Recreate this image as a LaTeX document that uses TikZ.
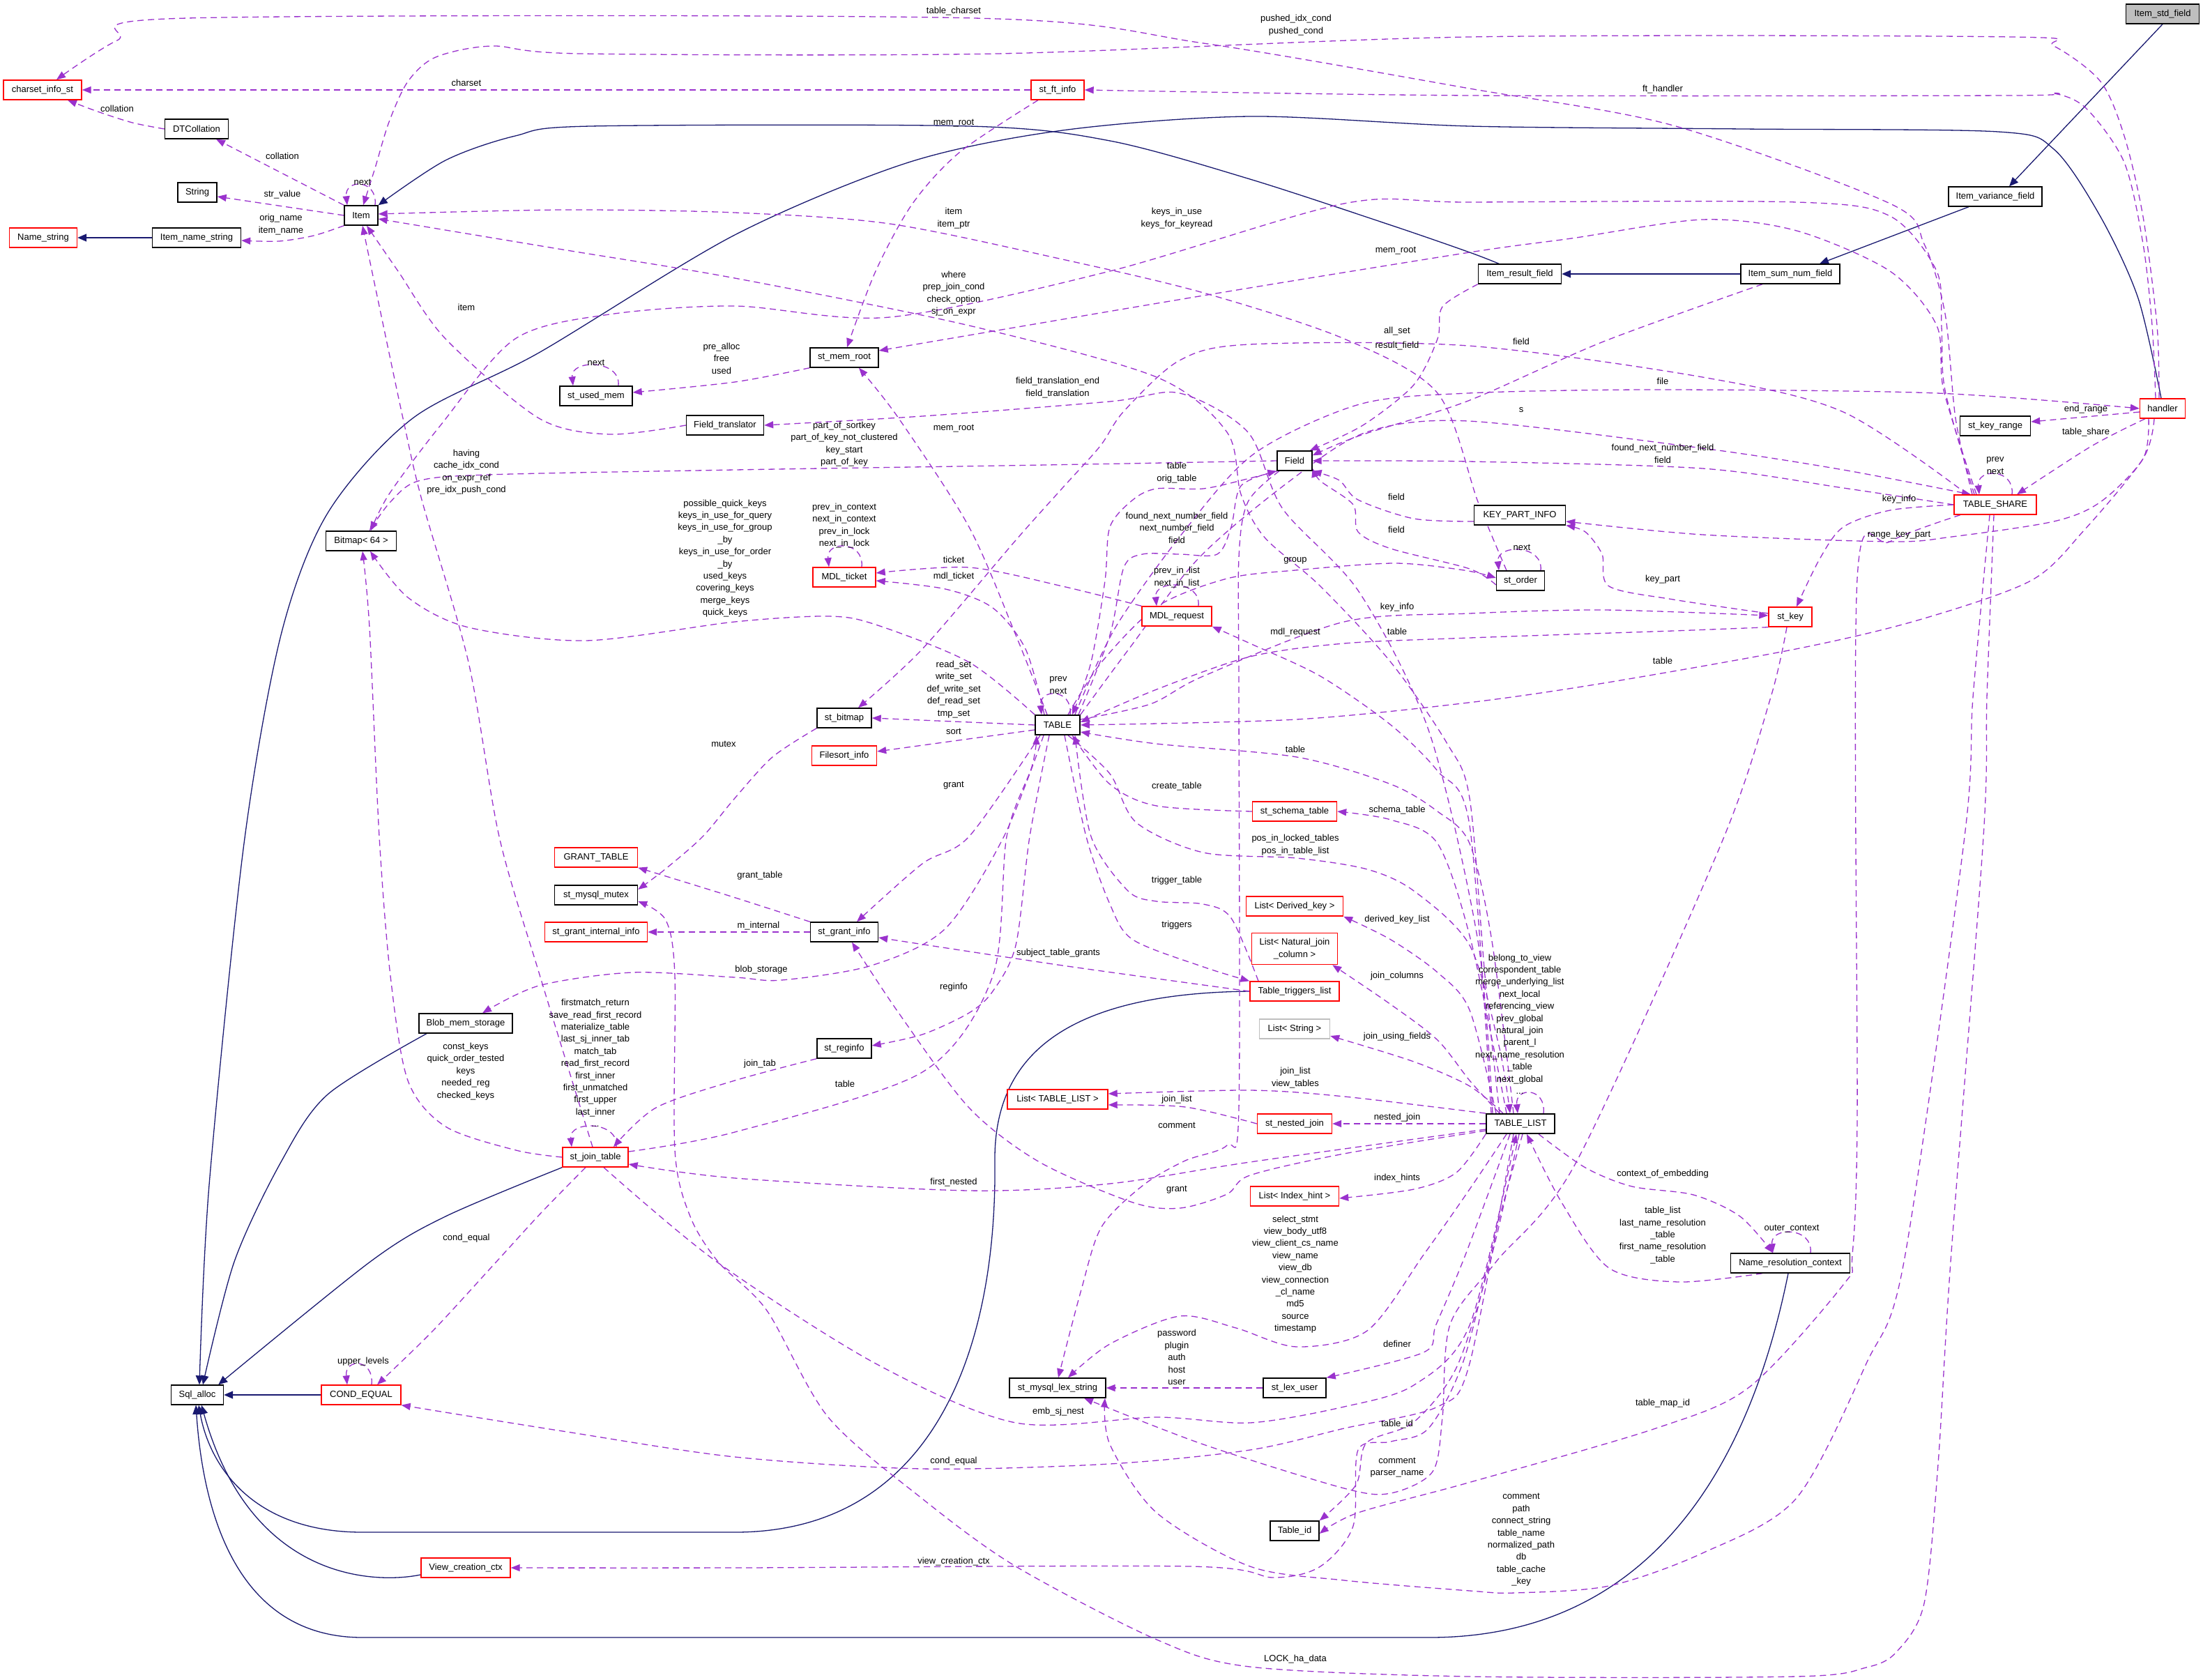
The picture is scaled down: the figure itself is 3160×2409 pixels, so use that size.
\documentclass[tikz,border=0pt]{standalone}
\usepackage{fontspec}
\setmainfont{Liberation Sans}
\usetikzlibrary{arrows.meta}
\definecolor{purp}{HTML}{9A32CD}
\definecolor{navyc}{HTML}{191970}
\definecolor{redb}{HTML}{FF0000}
\definecolor{grayf}{HTML}{BFBFBF}
\newcommand\nf{\fontsize{13}{17.4}\selectfont}
\pgfdeclarelayer{bg}
\pgfsetlayers{bg,main}
\tikzset{
 box/.style={draw=black, line width=1.4pt, fill=white, inner sep=0pt, minimum height=28pt, font=\nf},
 rbox/.style={box, draw=redb},
 dep/.style={draw=purp, line width=1.3pt, dash pattern=on 9pt off 6pt, -{Triangle[length=13pt,width=10pt]}},
 inh/.style={draw=navyc, line width=1.3pt, -{Triangle[length=13pt,width=11pt]}},
 lbl/.style={font=\nf, align=center, inner sep=0pt}
}
\newcommand\selfloop[4]{\draw[dep] ([xshift=#2]#1.north) .. controls +(4,-#4) and +(-4,-#4) .. ([xshift=#3]#1.north);}
\begin{document}
\begin{tikzpicture}[x=1pt,y=-1pt]
\useasboundingbox (0,0) rectangle (3160,2409);
% ---------------- nodes
\node[rbox,minimum width=112pt] (cis) at (61,129) {charset\_info\_st};
\node[box,minimum width=91pt] (dtc) at (282,185) {DTCollation};
\node[box,minimum width=56pt] (str) at (283,276) {String};
\node[box,minimum width=48pt] (item) at (518,309) {Item};
\node[rbox,minimum width=97pt] (nms) at (62,341) {Name\_string};
\node[box,minimum width=127pt] (ins) at (282,341) {Item\_name\_string};
\node[box,minimum width=104pt] (sum) at (855,568) {st\_used\_mem};
\node[box,minimum width=111pt] (ftr) at (1040,610) {Field\_translator};
\node[rbox,minimum width=76pt] (sft) at (1517,129) {st\_ft\_info};
\node[box,minimum width=98pt] (smr) at (1211,513) {st\_mem\_root};
\node[box,fill=grayf,minimum width=105pt] (isf) at (3102,20) {Item\_std\_field};
\node[box,minimum width=134pt] (ivf) at (2862,282) {Item\_variance\_field};
\node[box,minimum width=119pt] (irf) at (2180,393) {Item\_result\_field};
\node[box,minimum width=142pt] (isnf) at (2568,393) {Item\_sum\_num\_field};
\node[rbox,minimum width=65pt] (hdl) at (3102,586) {handler};
\node[box,minimum width=101pt] (skr) at (2862,611) {st\_key\_range};
\node[box,minimum width=101pt] (bmp) at (518,776) {Bitmap< 64 >};
\node[box,minimum width=50pt] (fld) at (1857,661) {Field};
\node[rbox,minimum width=90pt] (mdlt) at (1211,828) {MDL\_ticket};
\node[rbox,minimum width=100pt] (mdlr) at (1688,884) {MDL\_request};
\node[box,minimum width=78pt] (sbm) at (1211,1030) {st\_bitmap};
\node[box,minimum width=64pt,line width=1.8pt] (tbl) at (1517,1040) {TABLE};
\node[rbox,minimum width=93pt] (fsi) at (1211,1084) {Filesort\_info};
\node[rbox,minimum width=121pt] (sst) at (1857,1164) {st\_schema\_table};
\node[rbox,minimum width=118pt] (tsh) at (2862,724) {TABLE\_SHARE};
\node[box,minimum width=131pt] (kpi) at (2180,739) {KEY\_PART\_INFO};
\node[box,minimum width=69pt] (sor) at (2181,833) {st\_order};
\node[rbox,minimum width=62pt] (sky) at (2568,885) {st\_key};
\node[rbox,minimum width=119pt] (gtb) at (855,1230) {GRANT\_TABLE};
\node[box,minimum width=119pt] (smm) at (855,1284) {st\_mysql\_mutex};
\node[rbox,minimum width=147pt] (sgii) at (855,1337) {st\_grant\_internal\_info};
\node[box,minimum width=134pt] (bms) at (668,1468) {Blob\_mem\_storage};
\node[rbox,minimum width=94pt] (sjt) at (854,1660) {st\_join\_table};
\node[box,minimum width=97pt] (sgi) at (1211,1337) {st\_grant\_info};
\node[box,minimum width=78pt] (sri) at (1211,1504) {st\_reginfo};
\node[rbox,minimum width=139pt] (ldk) at (1857,1300) {List< Derived\_key >};
\node[rbox,minimum width=123pt,minimum height=45pt,align=center] (lnj) at (1857,1361) {List< Natural\_join\\\_column >};
\node[rbox,minimum width=128pt] (ttl) at (1857,1422) {Table\_triggers\_list};
\node[box,draw=grayf,minimum width=101pt] (lst) at (1857,1476) {List< String >};
\node[rbox,minimum width=144pt] (ltl) at (1517,1577) {List< TABLE\_LIST >};
\node[rbox,minimum width=107pt] (snj) at (1857,1612) {st\_nested\_join};
\node[rbox,minimum width=127pt] (lih) at (1857,1716) {List< Index\_hint >};
\node[box,minimum width=98pt,line width=1.8pt] (tl) at (2181,1612) {TABLE\_LIST};
\node[box,minimum width=171pt] (nrc) at (2568,1812) {Name\_resolution\_context};
\node[box,minimum width=75pt] (sqa) at (283,2001) {Sql\_alloc};
\node[rbox,minimum width=114pt] (ceq) at (518,2001) {COND\_EQUAL};
\node[rbox,minimum width=128pt] (vcc) at (668,2249) {View\_creation\_ctx};
\node[box,minimum width=138pt] (mls) at (1517,1991) {st\_mysql\_lex\_string};
\node[box,minimum width=90pt] (slu) at (1857,1991) {st\_lex\_user};
\node[box,minimum width=70pt] (tid) at (1857,2196) {Table\_id};
% ---------------- edges
\begin{pgfonlayer}{bg}
% inheritance
\draw[inh] (isf.south) -- ([xshift=20]ivf.north);
\draw[inh] ([xshift=-38]ivf.south) -- ([xshift=42]isnf.north);
\draw[inh] (isnf.west) -- (irf.east);
\draw[inh] plot[smooth] coordinates {([xshift=-30]irf.north) (2108,362) (1995,323) (1793,257) (1592,202) (1390,181) (847,181) (739,195) (639,230) (item.north east)};
\draw[inh] plot[smooth] coordinates {([xshift=-2]hdl.north) (3067,428) (3013,311) (2946,214) (2866,189) (2500,185) (2108,181) (1793,167) (1524,187) (1303,233) (1054,337) (773,506) (592,600) (470,736) (403,911) (350,1210) (300,1700) ([xshift=3]sqa.north)};
\draw[inh] plot[smooth] coordinates {([xshift=-56]bms.south) (470,1570) (403,1667) (336,1810) ([xshift=8]sqa.north)};
\draw[inh] plot[smooth] coordinates {(sjt.south west) (639,1745) (531,1810) ([xshift=-8]sqa.north east)};
\draw[inh] (ceq.west) -- (sqa.east);
\draw[inh] (ins.west) -- (nms.east);
\draw[inh] ([yshift=-10]vcc.west) .. controls (540,2272) and (360,2270) .. ([xshift=6]sqa.south);
\draw[inh] (ttl.west) .. controls (1520,1425) and (1425,1520) .. (1427,1667) .. controls (1430,1950) and (1330,2198) .. (1054,2198) -- (520,2198) .. controls (360,2198) and (300,2100) .. ([xshift=2]sqa.south);
\draw[inh] ([xshift=-3]nrc.south) .. controls (2520,2050) and (2400,2349) .. (2050,2349) -- (520,2349) .. controls (330,2349) and (290,2150) .. ([xshift=-2]sqa.south);
% dependencies
\draw[dep] plot[smooth] coordinates {([xshift=-33]tsh.north) (2805,600) (2790,450) (2760,350) (2711,292) (2400,180) (2108,127) (1726,62) (1397,26) (269,26) (168,58) ([xshift=20]cis.north)};
\draw[dep] (sft.west) -- (cis.east);
\draw[dep] plot[smooth] coordinates {(dtc.west) (190,176) (140,160) ([xshift=36]cis.south)};
\draw[dep] (item.north west) -- ([xshift=28]dtc.south);
\draw[dep] (item.west) -- ([yshift=-6]str.east);
\draw[dep] plot[smooth] coordinates {(item.south west) (450,338) (400,346) ([yshift=-4]ins.east)};
\selfloop{item}{20}{-20}{38}
\draw[dep] plot[smooth] coordinates {([xshift=-5]hdl.north) (3094,467) (3074,311) (3047,195) (3013,117) (2946,66) (2886,53) (2108,53) (1430,77) (834,77) (706,66) (625,82) (585,117) (558,175) (538,241) ([xshift=3]item.north)};
\draw[dep] plot[smooth] coordinates {([xshift=-10]hdl.north) (3087,467) (3074,350) (3047,233) (2993,156) (2946,134) (2886,137) (2108,137) (sft.east)};
\draw[dep] plot[smooth] coordinates {([xshift=-20]sor.north) (2120,720) (2062,564) (1928,486) (1726,420) (1524,372) (1276,321) (1054,305) (807,301) ([yshift=2]item.east)};
\draw[dep] plot[smooth] coordinates {([xshift=-30]tl.north) (2130,1400) (2108,1145) (2076,1067) (1995,950) (1894,841) (1814,771) (1780,709) (1760,620) (1659,541) (1390,467) (1054,399) (807,358) ([yshift=-5]item.east)};
\draw[dep] plot[smooth] coordinates {(ftr.west) (874,623) (773,600) (639,486) (571,389) ([xshift=8]item.south)};
\draw[dep] plot[smooth] coordinates {([xshift=-4]sjt.north) (773,1395) (716,1200) (672,950) (605,717) (578,600) (540,420) ([xshift=2]item.south)};
\draw[dep] plot[smooth] coordinates {(fld.west) (1500,667) (1054,674) (700,681) (600,690) (560,720) ([xshift=12]bmp.north)};
\draw[dep] plot[smooth] coordinates {([xshift=-30]tsh.north) (2790,560) (2785,470) (2778,389) (2711,310) (2577,290) (2108,290) (1928,292) (1592,389) (1276,455) (1054,439) (874,451) (739,486) (632,610) (558,709) ([xshift=14]bmp.north)};
\draw[dep] plot[smooth] coordinates {(tbl.north west) (1390,950) (1256,896) (1188,884) (1054,892) (840,919) (672,900) (585,857) ([xshift=13]bmp.south)};
\draw[dep] plot[smooth] coordinates {(sjt.west) (740,1650) (639,1616) (585,1550) (560,1400) (544,1200) (530,900) ([xshift=2]bmp.south)};
\draw[dep] plot[smooth] coordinates {([xshift=-28]sft.south) (1377,218) (1309,292) (1256,389) ([xshift=4]smr.north)};
\draw[dep] plot[smooth] coordinates {([xshift=-27]tsh.north) (2788,560) (2778,467) (2711,389) (2577,331) (2442,315) (2254,342) (2108,362) (1726,424) ([yshift=10]smr.east)};
\draw[dep] plot[smooth] coordinates {([xshift=-15]tbl.north) (1457,911) (1390,756) (1289,600) ([xshift=21]smr.south)};
\draw[dep] plot[smooth] coordinates {(smr.south west) (1054,548) ([yshift=5]sum.east)};
\selfloop{sum}{32}{-33}{38}
\draw[dep] plot[smooth] coordinates {([xshift=-40]tl.north) (2120,1350) (2050,1050) (1950,850) (1840,730) (1790,620) (1692,564) (1592,576) (1323,597) (ftr.east)};
\draw[dep] plot[smooth] coordinates {([xshift=-25]fld.south) (1793,686) (1726,701) (1659,701) (1625,717) (1592,756) (1585,833) (1565,950) ([xshift=21]tbl.north)};
\draw[dep] plot[smooth] coordinates {([xshift=30]tbl.north) (1592,911) (1612,814) (1639,795) (1692,795) (1746,795) (1766,756) (1780,697) (fld.south west)};
\draw[dep] plot[smooth] coordinates {(tsh.west) (2644,700) (2442,672) (2106,662) (fld.east)};
\draw[dep] plot[smooth] coordinates {([yshift=-9]kpi.west) (2028,744) (1948,717) (1921,689) (fld.south east)};
\draw[dep] plot[smooth] coordinates {([yshift=-6]sor.west) (2108,816) (1995,787) (1948,763) (1941,724) (1894,690) ([yshift=4]fld.south east)};
\draw[dep] plot[smooth] coordinates {(irf.south west) (2069,440) (2062,486) (2028,552) (1955,610) ([xshift=-4]fld.north east)};
\draw[dep] plot[smooth] coordinates {([xshift=-40]isnf.south) (2300,490) (2106,575) (1950,625) ([yshift=-7]fld.north east)};
\draw[dep] plot[smooth] coordinates {([xshift=-40]tsh.north) (2644,591) (2442,541) (2106,496) (1793,494) (1692,517) (1612,590) (1578,640) (1524,700) (1457,775) (1323,931) ([xshift=20]sbm.north)};
\draw[dep] plot[smooth] coordinates {(tbl.north east) (1620,930) (1720,800) (1850,690) (1960,620) (2106,604) (2442,643) (2644,674) ([xshift=-35]tsh.north)};
\draw[dep] plot[smooth] coordinates {([xshift=-8]tbl.north east) (1600,900) (1700,760) (1800,650) (1950,580) (2106,564) (2375,559) (2778,564) (hdl.west)};
\draw[dep] plot[smooth] coordinates {([xshift=-25]hdl.south) (3000,640) ([xshift=31]tsh.north)};
\draw[dep] ([yshift=-5]hdl.west) -- ([yshift=6]skr.east);
\selfloop{tsh}{24}{-23}{38}
\draw[dep] plot[smooth] coordinates {(tsh.west) (2711,732) (2644,756) (2610,802) ([xshift=9]sky.north)};
\draw[dep] plot[smooth] coordinates {([xshift=-20]hdl.south) (3074,658) (3013,720) (2946,748) (2800,770) (2711,777) (2442,767) ([yshift=-9]kpi.east)};
\draw[dep] plot[smooth] coordinates {([yshift=5]sky.west) (2400,860) (2308,841) (2298,795) (2274,763) (kpi.south east)};
\selfloop{sor}{29}{-31}{38}
\draw[dep] plot[smooth] coordinates {([xshift=-12]hdl.south) (3074,658) (2990,760) (2913,833) (2750,890) (2576,931) (2300,980) (2106,1008) (1860,1032) (tbl.east)};
\draw[dep] plot[smooth] coordinates {([yshift=8]tbl.east) (1650,1010) (1726,970) (1928,892) (2108,880) (2300,875) ([yshift=2]sky.west)};
\draw[dep] plot[smooth] coordinates {(sky.south west) (2400,905) (2108,915) (1928,923) (1793,942) (1659,989) ([yshift=4]tbl.east)};
\draw[dep] plot[smooth] coordinates {([xshift=15]tbl.north) (1580,950) (1660,870) (1760,830) (1858,818) (2000,808) (2100,818) ([yshift=4]sor.west)};
\draw[dep] plot[smooth] coordinates {([xshift=-42]tl.north) (2108,1184) (2062,1106) (1995,1040) (1894,970) (1793,923) (mdlr.south east)};
\draw[dep] plot[smooth] coordinates {(mdlr.north west) (1524,841) (1390,814) ([yshift=6]mdlt.east)};
\draw[dep] plot[smooth] coordinates {([xshift=-19]tbl.north) (1471,931) (1424,872) (1356,845) ([yshift=-5]mdlt.east)};
\selfloop{mdlt}{25}{-22}{38}
\selfloop{mdlr}{31}{-29}{38}
\draw[dep] (tbl.west) -- (sbm.east);
\selfloop{tbl}{18}{-23}{38}
\draw[dep] ([yshift=-7]tbl.west) -- ([yshift=6]fsi.east);
\draw[dep] plot[smooth] coordinates {([xshift=-10]tl.north) (2140,1350) (2108,1210) (2062,1164) (1995,1125) (1860,1086) (1659,1067) ([yshift=-10]tbl.east)};
\draw[dep] plot[smooth] coordinates {(sst.west) (1659,1156) (1592,1125) ([xshift=21]tbl.south)};
\draw[dep] plot[smooth] coordinates {([xshift=-20]tl.north) (2110,1350) (2062,1210) (1995,1176) (sst.east)};
\draw[dep] plot[smooth] coordinates {([xshift=15]tbl.south) (1592,1110) (1630,1180) (1726,1223) (1860,1231) (1961,1247) (2028,1278) (2108,1356) (2150,1500) ([xshift=-15]tl.north)};
\draw[dep] plot[smooth] coordinates {([xshift=-25]tbl.south) (1390,1200) (1323,1239) ([xshift=18]sgi.north)};
\draw[dep] plot[smooth] coordinates {(sgi.north west) (1049,1286) (gtb.south east)};
\draw[dep] (sgi.west) -- (sgii.east);
\draw[dep] plot[smooth] coordinates {(sbm.south west) (1108,1086) (1054,1145) (1008,1200) (954,1247) ([yshift=8]smm.east)};
\draw[dep] plot[smooth] coordinates {([xshift=-20]tbl.south) (1440,1200) (1356,1332) (1250,1385) (1121,1406) (1054,1402) (907,1395) (773,1414) ([xshift=24]bms.north)};
\draw[dep] plot[smooth] coordinates {(ttl.west) (1524,1385) ([yshift=-8]sgi.east)};
\draw[dep] plot[smooth] coordinates {([xshift=-12]tbl.south) (1477,1200) (1457,1356) (1424,1422) (1390,1453) (1323,1484) ([yshift=4]sri.east)};
\draw[dep] plot[smooth] coordinates {([xshift=-52]ttl.north) (1766,1317) (1726,1297) (1659,1293) (1618,1278) (1565,1200) ([xshift=25]tbl.south)};
\draw[dep] plot[smooth] coordinates {([xshift=10]tbl.south) (1558,1200) (1592,1297) (1625,1348) (1726,1387) (ttl.north west)};
\draw[dep] plot[smooth] coordinates {(sri.south west) (1054,1550) (941,1589) ([xshift=26]sjt.north)};
\draw[dep] plot[smooth] coordinates {([yshift=8]sjt.east) (1054,1624) (1323,1538) (1424,1400) (1444,1200) (1480,1100) ([xshift=-30]tbl.south)};
\selfloop{sjt}{30}{-34}{38}
\draw[dep] plot[smooth] coordinates {([yshift=-8]tl.west) (1793,1667) (1592,1698) (1390,1708) (1054,1690) ([yshift=-10]sjt.east)};
\draw[dep] plot[smooth] coordinates {(tl.north west) (1928,1573) (1793,1564) ([yshift=8]ltl.east)};
\draw[dep] plot[smooth] coordinates {(snj.west) (1700,1588) ([yshift=-8]ltl.east)};
\draw[dep] (tl.west) -- (snj.east);
\draw[dep] plot[smooth] coordinates {([xshift=-35]tl.north) (2108,1449) (2062,1395) (1995,1348) (ldk.south east)};
\draw[dep] plot[smooth] coordinates {([xshift=-30]tl.north) (2108,1550) (2062,1492) (1995,1441) ([xshift=-8]lnj.south east)};
\draw[dep] plot[smooth] coordinates {([xshift=-25]tl.north) (2108,1558) (2028,1523) ([yshift=-10]lst.east)};
\selfloop{tl}{33}{-4}{38}
\draw[dep] plot[smooth] coordinates {(tl.south west) (2089,1682) (2028,1706) ([yshift=-3]lih.east)};
\draw[dep] plot[smooth] coordinates {([yshift=-10]tl.west) (1928,1655) (1793,1686) (1760,1713) (1693,1733) (1625,1725) (1491,1667) (1390,1589) (1289,1453) ([xshift=11]sgi.south)};
\draw[dep] plot[smooth] coordinates {([xshift=26]tl.south) (2274,1675) (2341,1702) (2429,1714) (2496,1745) ([xshift=-25]nrc.north)};
\draw[dep] plot[smooth] coordinates {([xshift=-40]nrc.south) (2408,1839) (2308,1819) (2240,1725) ([xshift=9]tl.south)};
\selfloop{nrc}{29}{-25}{38}
\draw[dep] plot[smooth] coordinates {([xshift=-20]tl.south) (2108,1706) (2042,1800) (1961,1909) (1860,1932) (1773,1905) (1692,1888) (1592,1928) ([xshift=15]mls.north)};
\draw[dep] plot[smooth] coordinates {([xshift=-15]tl.south) (2102,1800) (2060,1900) (2042,1940) (slu.north east)};
\draw[dep] (slu.west) -- (mls.east);
\draw[dep] plot[smooth] coordinates {([xshift=12]sjt.south) (1028,1810) (1256,1956) (1457,2041) (1659,2033) (1793,2041) (1928,2018) (2028,1987) (2108,1901) ([xshift=-6]tl.south)};
\draw[dep] plot[smooth] coordinates {([xshift=-10]tl.south) (2108,1956) (2062,2018) (1928,2049) (1793,2080) (1592,2100) (1323,2107) (1054,2090) (807,2053) (ceq.south east)};
\draw[dep] plot[smooth] coordinates {([xshift=-14]sjt.south) (776,1740) (712,1810) (620,1910) ([xshift=23]ceq.north)};
\selfloop{ceq}{15}{-20}{38}
\draw[dep] plot[smooth] coordinates {([xshift=3]tl.south) (2150,1750) (2100,1950) (2049,2049) (1995,2068) (1948,2080) (1941,2189) (1894,2247) (1827,2263) (1706,2247) (1054,2249) (vcc.east)};
\draw[dep] plot[smooth] coordinates {([xshift=-2]tl.south) (2140,1800) (2090,1960) (2028,2040) (1960,2070) (1945,2130) (tid.north east)};
\draw[dep] plot[smooth] coordinates {([xshift=-50]tsh.south) (2711,777) (2664,830) (2664,1600) (2657,1800) (2644,1843) (2509,1990) (2375,2049) (2106,2127) (1948,2170) ([yshift=-4]tid.east)};
\draw[dep] plot[smooth] coordinates {([xshift=-2]tsh.south) (2850,1000) (2845,1200) (2798,1810) (2780,2100) (2760,2300) (2720,2370) (2677,2392) (2576,2405) (2108,2405) (1793,2391) (1659,2352) (1457,2247) (1323,2150) (1188,2033) (1100,1880) (1030,1810) (990,1745) (968,1650) (968,1400) (955,1320) ([yshift=-9]smm.east)};
\draw[dep] plot[smooth] coordinates {([xshift=-8]tsh.south) (2830,1000) (2818,1200) (2731,1810) (2677,1956) (2576,2150) (2442,2228) (2308,2275) (2173,2285) (2108,2282) (1928,2267) (1793,2247) (1659,2170) (1592,2072) ([xshift=68]mls.south)};
\draw[dep] plot[smooth] coordinates {([xshift=-5]sky.south) (2540,1000) (2469,1210) (2261,1667) (2146,1810) (2080,1900) (2069,2033) (2055,2111) (1995,2142) (1928,2135) (1726,2072) ([xshift=38]mls.south)};
\draw[dep] plot[smooth] coordinates {([xshift=-22]fld.south) (1790,720) (1777,800) (1777,1000) (1777,1590) (1760,1643) (1700,1665) (1640,1700) (1580,1760) (1551,1850) ([xshift=1]mls.north)};
\end{pgfonlayer}
% ---------------- labels
\node[lbl] (L1) at (1368,16) {table\_charset};
\node[lbl] (L2) at (1859,36) {pushed\_idx\_cond\\pushed\_cond};
\node[lbl] (L3) at (669,119) {charset};
\node[lbl] (L4) at (2385,128) {ft\_handler};
\node[lbl] (L5) at (168,156) {collation};
\node[lbl] (L6) at (1368,177) {mem\_root};
\node[lbl] (L7) at (405,224) {collation};
\node[lbl] (L8) at (520,261) {next};
\node[lbl] (L9) at (405,279) {str\_value};
\node[lbl] (L10) at (403,322) {orig\_name\\item\_name};
\node[lbl] (L11) at (1368,313) {item\\item\_ptr};
\node[lbl] (L12) at (1688,313) {keys\_in\_use\\keys\_for\_keyread};
\node[lbl] (L13) at (2002,360) {mem\_root};
\node[lbl] (L14) at (1368,421) {where\\prep\_join\_cond\\check\_option\\sj\_on\_expr};
\node[lbl] (L15) at (669,441) {item};
\node[lbl] (L16) at (2004,475) {all\_set};
\node[lbl] (L17) at (2004,496) {result\_field};
\node[lbl] (L18) at (2182,490) {field};
\node[lbl] (L19) at (1035,514) {pre\_alloc\\free\\used};
\node[lbl] (L20) at (855,520) {next};
\node[lbl] (L21) at (2385,547) {file};
\node[lbl] (L22) at (1517,556) {field\_translation\_end\\field\_translation};
\node[lbl] (L23) at (2992,587) {end\_range};
\node[lbl] (L24) at (2182,588) {s};
\node[lbl] (L25) at (1211,637) {part\_of\_sortkey\\part\_of\_key\_not\_clustered\\key\_start\\part\_of\_key};
\node[lbl] (L26) at (1368,615) {mem\_root};
\node[lbl] (L27) at (2992,620) {table\_share};
\node[lbl] (L28) at (2385,651) {found\_next\_number\_field\\field};
\node[lbl] (L29) at (2862,668) {prev\\next};
\node[lbl] (L30) at (669,677) {having\\cache\_idx\_cond\\on\_expr\_ref\\pre\_idx\_push\_cond};
\node[lbl] (L31) at (1688,678) {table\\orig\_table};
\node[lbl] (L32) at (2003,713) {field};
\node[lbl] (L33) at (2724,716) {key\_info};
\node[lbl] (L34) at (1040,801) {possible\_quick\_keys\\keys\_in\_use\_for\_query\\keys\_in\_use\_for\_group\\\_by\\keys\_in\_use\_for\_order\\\_by\\used\_keys\\covering\_keys\\merge\_keys\\quick\_keys};
\node[lbl] (L35) at (1211,754) {prev\_in\_context\\next\_in\_context\\prev\_in\_lock\\next\_in\_lock};
\node[lbl] (L36) at (1688,757) {found\_next\_number\_field\\next\_number\_field\\field};
\node[lbl] (L37) at (2003,760) {field};
\node[lbl] (L38) at (2724,767) {range\_key\_part};
\node[lbl] (L39) at (2183,785) {next};
\node[lbl] (L40) at (1368,803) {ticket};
\node[lbl] (L41) at (1858,804) {group};
\node[lbl] (L42) at (1688,828) {prev\_in\_list\\next\_in\_list};
\node[lbl] (L43) at (1368,827) {mdl\_ticket};
\node[lbl] (L44) at (2385,831) {key\_part};
\node[lbl] (L45) at (2004,871) {key\_info};
\node[lbl] (L46) at (1858,907) {mdl\_request};
\node[lbl] (L47) at (2004,906) {table};
\node[lbl] (L48) at (2385,948) {table};
\node[lbl] (L49) at (1368,989) {read\_set\\write\_set\\def\_write\_set\\def\_read\_set\\tmp\_set};
\node[lbl] (L50) at (1518,983) {prev\\next};
\node[lbl] (L51) at (1368,1049) {sort};
\node[lbl] (L52) at (1038,1067) {mutex};
\node[lbl] (L53) at (1858,1075) {table};
\node[lbl] (L54) at (1368,1127) {grant};
\node[lbl] (L55) at (1688,1128) {create\_table};
\node[lbl] (L56) at (2004,1162) {schema\_table};
\node[lbl] (L57) at (1858,1212) {pos\_in\_locked\_tables\\pos\_in\_table\_list};
\node[lbl] (L58) at (1090,1256) {grant\_table};
\node[lbl] (L59) at (1688,1263) {trigger\_table};
\node[lbl] (L60) at (2004,1319) {derived\_key\_list};
\node[lbl] (L61) at (1688,1327) {triggers};
\node[lbl] (L62) at (1088,1328) {m\_internal};
\node[lbl] (L63) at (1518,1367) {subject\_table\_grants};
\node[lbl] (L64) at (1092,1391) {blob\_storage};
\node[lbl] (L65) at (2004,1400) {join\_columns};
\node[lbl] (L66) at (1368,1416) {reginfo};
\node[lbl] (L67) at (2180,1469) {belong\_to\_view\\correspondent\_table\\merge\_underlying\_list\\next\_local\\referencing\_view\\prev\_global\\natural\_join\\parent\_l\\next\_name\_resolution\\\_table\\next\_global\\...};
\node[lbl] (L68) at (2004,1487) {join\_using\_fields};
\node[lbl] (L69) at (854,1525) {firstmatch\_return\\save\_read\_first\_record\\materialize\_table\\last\_sj\_inner\_tab\\match\_tab\\read\_first\_record\\first\_inner\\first\_unmatched\\first\_upper\\last\_inner\\...};
\node[lbl] (L70) at (1090,1526) {join\_tab};
\node[lbl] (L71) at (668,1537) {const\_keys\\quick\_order\_tested\\keys\\needed\_reg\\checked\_keys};
\node[lbl] (L72) at (1858,1546) {join\_list\\view\_tables};
\node[lbl] (L73) at (1212,1555) {table};
\node[lbl] (L74) at (1688,1577) {join\_list};
\node[lbl] (L75) at (2004,1603) {nested\_join};
\node[lbl] (L76) at (1688,1614) {comment};
\node[lbl] (L77) at (2385,1684) {context\_of\_embedding};
\node[lbl] (L78) at (2004,1690) {index\_hints};
\node[lbl] (L79) at (1368,1696) {first\_nested};
\node[lbl] (L80) at (1688,1707) {grant};
\node[lbl] (L81) at (2570,1763) {outer\_context};
\node[lbl] (L82) at (2385,1772) {table\_list\\last\_name\_resolution\\\_table\\first\_name\_resolution\\\_table};
\node[lbl] (L83) at (669,1776) {cond\_equal};
\node[lbl] (L84) at (1858,1828) {select\_stmt\\view\_body\_utf8\\view\_client\_cs\_name\\view\_name\\view\_db\\view\_connection\\\_cl\_name\\md5\\source\\timestamp};
\node[lbl] (L85) at (2004,1928) {definer};
\node[lbl] (L86) at (1688,1947) {password\\plugin\\auth\\host\\user};
\node[lbl] (L87) at (521,1953) {upper\_levels};
\node[lbl] (L88) at (2385,2013) {table\_map\_id};
\node[lbl] (L89) at (1518,2025) {emb\_sj\_nest};
\node[lbl] (L90) at (2004,2043) {table\_id};
\node[lbl] (L91) at (1368,2096) {cond\_equal};
\node[lbl] (L92) at (2004,2105) {comment\\parser\_name};
\node[lbl] (L93) at (2182,2209) {comment\\path\\connect\_string\\table\_name\\normalized\_path\\db\\table\_cache\\\_key};
\node[lbl] (L94) at (1368,2240) {view\_creation\_ctx};
\node[lbl] (L95) at (1858,2380) {LOCK\_ha\_data};
\end{tikzpicture}
\end{document}
